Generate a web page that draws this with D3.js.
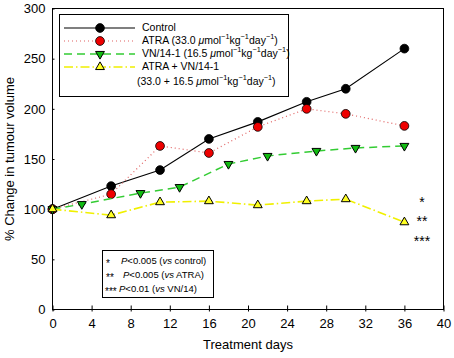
<!DOCTYPE html>
<html>
<head>
<meta charset="utf-8">
<script src="https://cdn.jsdelivr.net/npm/d3@7"></script>
<style>
  body { margin: 0; background: #fff; }
  svg { font-family: "Liberation Sans", Arial, sans-serif; }
</style>
</head>
<body>
<svg id="chart"></svg>
<script>
// data
const controlDays = [0, 6, 11, 16, 21, 26, 30, 36];
const controlVals = [100, 123, 139, 170, 187, 207, 220, 260];
const atraDays = [0, 6, 11, 16, 21, 26, 30, 36];
const atraVals = [100, 115, 163, 156, 182, 200, 195, 183];
const vnDays = [0, 3, 9, 13, 18, 22, 27, 31, 36];
const vnVals = [100, 105, 116, 122, 145, 153, 158, 161, 163];
const comboDays = [0, 6, 11, 16, 21, 26, 30, 36];
const comboVals = [100, 94, 107, 108, 104, 108, 110, 87];
const xTicks = [0, 4, 8, 12, 16, 20, 24, 28, 32, 36, 40];
const yTicks = [0, 50, 100, 150, 200, 250, 300];

const width = 454, height = 358;
const margin = {top: 8.5, right: 10.5, bottom: 48.5, left: 52.5};

const svg = d3.select("#chart")
    .attr("width", width)
    .attr("height", height);

const x = d3.scaleLinear().domain([0, 40]).range([margin.left, width - margin.right]);
const y = d3.scaleLinear().domain([0, 300]).range([height - margin.bottom, margin.top]);

// frame
svg.append("rect")
    .attr("x", x(0)).attr("y", y(300))
    .attr("width", x(40) - x(0)).attr("height", y(0) - y(300))
    .attr("fill", "none").attr("stroke", "#000").attr("stroke-width", 1);

// axes
const xAxis = svg.append("g")
    .attr("transform", "translate(0," + y(0) + ")")
    .call(d3.axisBottom(x).tickValues(xTicks).tickSizeInner(-4).tickSizeOuter(0).tickPadding(9));
xAxis.selectAll(".tick line").attr("y1", 2);
xAxis.select(".domain").remove();
xAxis.selectAll("text").style("font-size", "13px").attr("fill", "#000");

const yAxis = svg.append("g")
    .attr("transform", "translate(" + x(0) + ",0)")
    .call(d3.axisLeft(y).tickValues(yTicks).tickSizeInner(4).tickSizeOuter(0).tickPadding(3));
yAxis.selectAll(".tick line").attr("x2", 2);
yAxis.select(".domain").remove();
yAxis.selectAll("text").style("font-size", "13px").attr("fill", "#000");

svg.append("text")
    .attr("x", (x(0) + x(40)) / 2)
    .attr("y", 349)
    .attr("text-anchor", "middle")
    .style("font-size", "13px")
    .text("Treatment days");

svg.append("text")
    .attr("transform", "translate(14," + ((y(0) + y(300)) / 2) + ") rotate(-90)")
    .attr("text-anchor", "middle")
    .style("font-size", "13px")
    .text("% Change in tumour volume");

// series
const series = [
    {days: controlDays, vals: controlVals, stroke: "#000", dash: null, sw: 1.1,
     marker: "circle", fill: "#000"},
    {days: atraDays, vals: atraVals, stroke: "#e06060", dash: "1,3", sw: 1.2,
     marker: "circle", fill: "#ee0000"},
    {days: vnDays, vals: vnVals, stroke: "#33cc33", dash: "8,5", sw: 1.5,
     marker: "down", fill: "#11bb11"},
    {days: comboDays, vals: comboVals, stroke: "#f0f000", dash: "9,3,1.5,3", sw: 1.6,
     marker: "up", fill: "#ffff22"}
];

const line = d3.line().x(d => x(d[0])).y(d => y(d[1]));

function drawMarker(g, type, cx, cy, fill) {
    if (type === "circle") {
        g.append("circle").attr("cx", cx).attr("cy", cy).attr("r", 4.4)
            .attr("fill", fill).attr("stroke", "#000").attr("stroke-width", 0.8);
    } else {
        const sym = d3.symbol().type(d3.symbolTriangle).size(34);
        g.append("path").attr("d", sym())
            .attr("transform", "translate(" + cx + "," + cy + ")" + (type === "down" ? " rotate(180)" : ""))
            .attr("fill", fill).attr("stroke", "#000").attr("stroke-width", 1);
    }
}

series.forEach(s => {
    const pts = s.days.map((d, i) => [d, s.vals[i]]);
    svg.append("path")
        .attr("d", line(pts))
        .attr("fill", "none")
        .attr("stroke", s.stroke)
        .attr("stroke-width", s.sw)
        .attr("stroke-dasharray", s.dash);
    const g = svg.append("g");
    pts.forEach(p => drawMarker(g, s.marker, x(p[0]), y(p[1]), s.fill));
});

// legend
const legend = svg.append("g");
legend.append("rect")
    .attr("x", 59.5).attr("y", 14.5).attr("width", 229).attr("height", 82)
    .attr("fill", "#fff").attr("stroke", "#000").attr("stroke-width", 1);

const legendRows = [
    {y: 28, parts: [["Control"]]},
    {y: 41, parts: [["ATRA (33.0 "], ["\u03bc", "it"], ["mol"], ["\u22121", "sup"], ["kg"], ["\u22121", "sup"], ["day"], ["\u22121", "sup"], [")"]]},
    {y: 54, parts: [["VN/14-1 (16.5 "], ["\u03bc", "it"], ["mol"], ["\u22121", "sup"], ["kg"], ["\u22121", "sup"], ["day"], ["\u22121", "sup"], [")"]]},
    {y: 67, parts: [["ATRA + VN/14-1"]]},
    {y: 82, parts: [["(33.0 + 16.5 "], ["\u03bc", "it"], ["mol"], ["\u22121", "sup"], ["kg"], ["\u22121", "sup"], ["day"], ["\u22121", "sup"], [")"]]}
];

function richText(g, xPos, yPos, parts, size) {
    const t = g.append("text").attr("x", xPos).attr("y", yPos)
        .attr("dominant-baseline", "middle").style("font-size", size + "px");
    let raised = false;
    parts.forEach(p => {
        const ts = t.append("tspan").text(p[0]);
        if (p[1] === "it") ts.style("font-style", "italic");
        if (p[1] === "sup") {
            ts.style("font-size", (size * 0.7) + "px").attr("dy", raised ? 0 : -4);
            raised = true;
        } else {
            if (raised) ts.attr("dy", 4);
            raised = false;
        }
    });
    return t;
}

legendRows.forEach((r, i) => {
    const tx = i === 4 ? 137 : 142;
    richText(legend, tx, r.y, r.parts, 10.5);
    if (i < 4) {
        const s = series[i];
        legend.append("line")
            .attr("x1", 64).attr("x2", 135).attr("y1", r.y).attr("y2", r.y)
            .attr("stroke", s.stroke).attr("stroke-width", s.sw)
            .attr("stroke-dasharray", s.dash);
        drawMarker(legend, s.marker, 100, r.y, s.fill);
    }
});

// significance marks
const starLabels = ["*", "**", "***"];
const starY = [207, 226, 246];
starLabels.forEach((s, i) => {
    svg.append("text")
        .attr("x", 422).attr("y", starY[i])
        .attr("text-anchor", "middle")
        .style("font-size", "14px")
        .text(s);
});

// p-value box
const pbox = svg.append("g");
pbox.append("rect")
    .attr("x", 102.5).attr("y", 250.5).attr("width", 111).attr("height", 47)
    .attr("fill", "#fff").attr("stroke", "#000").attr("stroke-width", 1);

const pRows = [
    {star: "*", sx: 106, tx: 121, y: 261, parts: [["P", "it"], ["<0.005 ("], ["vs", "it"], [" control)"]]},
    {star: "**", sx: 106, tx: 123, y: 275, parts: [["P", "it"], ["<0.005 ("], ["vs", "it"], [" ATRA)"]]},
    {star: "***", sx: 105, tx: 119, y: 289, parts: [["P", "it"], ["<0.01 ("], ["vs", "it"], [" VN/14)"]]}
];
pRows.forEach(r => {
    pbox.append("text").attr("x", r.sx).attr("y", r.y + 3)
        .attr("dominant-baseline", "middle").style("font-size", "10px").text(r.star);
    richText(pbox, r.tx, r.y, r.parts, 9.5);
});
</script>
</body>
</html>
